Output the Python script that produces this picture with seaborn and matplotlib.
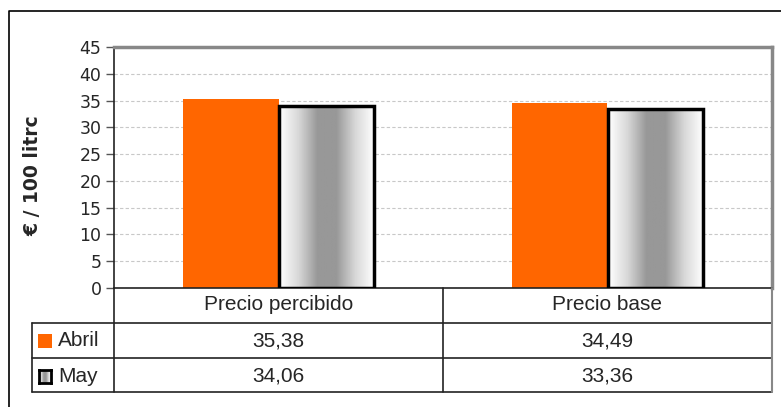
import numpy as np
import pandas as pd
import seaborn as sns
import matplotlib.pyplot as plt
from matplotlib.patches import Rectangle
from matplotlib.colors import LinearSegmentedColormap

categories = ["Precio percibido", "Precio base"]
series = ["Abril", "May"]
abril = [35.38, 34.49]
may = [34.06, 33.36]
labels_abril = ["35,38", "34,49"]
labels_may = ["34,06", "33,36"]

df = pd.DataFrame({
    "cat": categories * 2,
    "serie": ["Abril"] * 2 + ["May"] * 2,
    "valor": abril + may,
})

W, H = 781, 407
fig = plt.figure(figsize=(W / 100, H / 100), dpi=100)
sns.set_style("white")
plt.rcParams['font.family'] = ['DejaVu Sans']

def fx(px):
    return px / W

def fy(py):
    return 1 - py / H

ax = fig.add_axes([fx(114), fy(288), fx(772) - fx(114), fy(47) - fy(288)])

sns.barplot(data=df, x="cat", y="valor", hue="serie", palette=["#FF6600", "#FFFFFF"],
            width=0.58, gap=0, saturation=1, legend=False, ax=ax)

ax.set_ylim(0, 45)
ax.set_xlim(-0.5, 1.5)
ax.set_yticks(range(0, 50, 5))
ax.set_xticks([])
ax.set_xlabel("")
ax.set_ylabel("")
ax.tick_params(axis="y", length=6, width=1, color="#555555", labelsize=12.5, pad=3, direction="out", left=True)
ax.yaxis.grid(True, color="#C8C8C8", linestyle=(0, (3, 2)), linewidth=0.8)
ax.set_axisbelow(True)
for s in ["left", "bottom"]:
    ax.spines[s].set_color("#222222")
    ax.spines[s].set_linewidth(1.2)
for s in ["top", "right"]:
    ax.spines[s].set_color("#888888")
    ax.spines[s].set_linewidth(2.5)

# gradient for May bars
grad = LinearSegmentedColormap.from_list("g", ["#FFFFFF", "#D8D8D8", "#989898", "#989898", "#D8D8D8", "#FFFFFF"])
bars = ax.patches
for p in bars[2:4]:
    x0, w, h = p.get_x(), p.get_width(), p.get_height()
    im = ax.imshow(np.linspace(0, 1, 100).reshape(1, -1), cmap=grad, aspect="auto",
                   extent=[x0, x0 + w, 0, h], zorder=2)
    im.set_clip_path(p)
    ax.add_patch(Rectangle((x0, 0), w, h, fill=False, edgecolor="black", linewidth=2.5, zorder=3))
ax.set_xlim(-0.5, 1.5)
ax.set_ylim(0, 45)
for p in bars[:4]:
    p.set_edgecolor("none")

fig.text(fx(33), fy(176), "€ / 100 litrc", rotation=90, ha="center", va="center",
         fontsize=13.5, fontweight="bold")

# data table
def hline(y, x0, x1, c="#222222", lw=1.2):
    fig.add_artist(plt.Line2D([fx(x0), fx(x1)], [fy(y), fy(y)], color=c, linewidth=lw))

def vline(x, y0, y1, c="#222222", lw=1.2):
    fig.add_artist(plt.Line2D([fx(x), fx(x)], [fy(y0), fy(y1)], color=c, linewidth=lw))

hline(323, 32, 772)
hline(358, 32, 772)
hline(392, 32, 772)
vline(32, 323, 392)
vline(114, 288, 392)
vline(443, 288, 392)
vline(772, 288, 392, c="#888888", lw=1.5)

tfont = dict(family="Liberation Sans", fontsize=15, va="center")
centers = [278.5, 607.5]
for i, c in enumerate(categories):
    fig.text(fx(centers[i]), fy(305), c, ha="center", **tfont)
    fig.text(fx(centers[i]), fy(341), labels_abril[i], ha="center", **tfont)
    fig.text(fx(centers[i]), fy(376), labels_may[i], ha="center", **tfont)
fig.text(fx(58), fy(341), series[0], ha="left", **tfont)
fig.text(fx(58), fy(376), series[1], ha="left", **tfont)

# legend keys
fig.add_artist(Rectangle((fx(38), fy(348)), fx(14), fy(334) - fy(348), facecolor="#FF6600", edgecolor="none"))
kax = fig.add_axes([fx(39), fy(383), fx(12), fy(370) - fy(383)])
kax.imshow(np.linspace(0, 1, 50).reshape(1, -1), cmap=grad, aspect="auto")
kax.set_xticks([])
kax.set_yticks([])
for s in kax.spines.values():
    s.set_linewidth(2)
    s.set_color("black")

# outer frame
fig.add_artist(plt.Line2D([fx(9), fx(9), fx(781)], [fy(407), fy(11), fy(11)], color="black", linewidth=1.2))

fig.savefig("out.png", dpi=100)
